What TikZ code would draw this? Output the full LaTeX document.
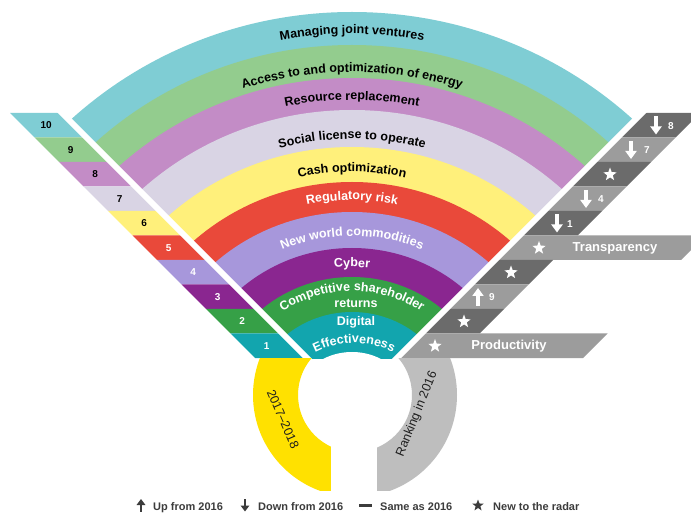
\documentclass[tikz,border=0pt]{standalone}
\usepackage{fontspec}
\setmainfont{Liberation Sans}
\usetikzlibrary{decorations.text,shapes.geometric,arrows.meta}
\definecolor{bandA}{HTML}{7FCDD4}
\definecolor{bandB}{HTML}{93CC8E}
\definecolor{bandC}{HTML}{C38CC6}
\definecolor{bandD}{HTML}{D9D4E4}
\definecolor{bandE}{HTML}{FFF07B}
\definecolor{bandF}{HTML}{E9493A}
\definecolor{bandG}{HTML}{A797DB}
\definecolor{bandH}{HTML}{8A2690}
\definecolor{bandI}{HTML}{36A047}
\definecolor{bandJ}{HTML}{12A5AE}
\definecolor{ringY}{HTML}{FFE100}
\definecolor{ringG}{HTML}{BEBEBE}
\definecolor{stripDark}{HTML}{6B6B6B}
\definecolor{stripLight}{HTML}{9C9C9C}
\definecolor{legendC}{HTML}{3C3C3C}
\definecolor{ringText}{HTML}{1E1E1E}
\tikzset{
  fantext/.style 2 args={decorate,decoration={text along path,text align=center,
     text={|\bfseries\fontsize{12.5}{15}\selectfont\color{#1}|#2}}},
  numtext/.style={font=\bfseries\fontsize{10}{12}\selectfont,inner sep=0pt},
  labtext/.style={font=\bfseries\fontsize{13}{15}\selectfont,text=white,inner sep=0pt},
  flattext/.style={font=\bfseries\fontsize{12.5}{15}\selectfont,text=white,inner sep=0pt},
  starW/.style={star,star points=5,star point ratio=2.4,fill=white,minimum size=14pt,inner sep=0pt},
  starL/.style={star,star points=5,star point ratio=2.4,fill=legendC,minimum size=12pt,inner sep=0pt},
  arrowW/.style={white,line width=3.6pt,-{Triangle[width=11pt,length=8pt]}},
  arrowL/.style={legendC,line width=2.6pt,-{Triangle[width=8.5pt,length=6pt]}},
  legtext/.style={font=\bfseries\fontsize{11}{13}\selectfont,text=legendC,inner sep=0pt,anchor=base west},
  ringtext/.style={font=\fontsize{12.5}{15}\selectfont,text=ringText,inner sep=0pt},
  sepline/.style={white,line width=6pt}
}
\begin{document}
\begin{tikzpicture}[x=1pt,y=1pt]
\fill[white] (0,0) rectangle (691,512);
\useasboundingbox (0,0) rectangle (691,512);
\begin{scope}
\clip (0,0) rectangle (691,512);
% fan bands
\begin{scope}
\clip (352,109) -- (-60,521) -- (764,521) -- cycle;
\clip (0,154) rectangle (691,512);
\foreach \r/\c in {400/bandA,367/bandB,334/bandC,302/bandD,265/bandE,230/bandF,200/bandG,164/bandH,135/bandI,100/bandJ}{
  \fill[\c] (352,100) ellipse [x radius={1.03*\r}, y radius=\r];
}
\fill[white] (352,100) ellipse [x radius=61.8, y radius=60];
\end{scope}
% left strips
\foreach \j/\c/\n/\t in {1/bandA/10/black,2/bandB/9/black,3/bandC/8/black,4/bandD/7/black,5/bandE/6/black,6/bandF/5/white,7/bandG/4/white,8/bandH/3/white,9/bandI/2/white,10/bandJ/1/white}{
  \pgfmathsetmacro{\ya}{399-24.5*(\j-1)}
  \pgfmathsetmacro{\yb}{\ya-24.5}
  \pgfmathsetmacro{\yc}{\ya-12.25}
  \fill[\c] ({409-\ya},\ya) -- ({463-\ya},\ya) -- ({463-\yb},\yb) -- ({409-\yb},\yb) -- cycle;
  \node[numtext,text=\t] (L\n) at ({433-\yc},\yc) {\n};
}
% right strips
\foreach \j in {1,...,10}{
  \pgfmathsetmacro{\ya}{399-24.5*(\j-1)}
  \pgfmathsetmacro{\yb}{\ya-24.5}
  \pgfmathtruncatemacro{\odd}{mod(\j,2)}
  \ifnum\odd=1 \def\sc{stripDark}\else\def\sc{stripLight}\fi
  \ifnum\j=6 \def\re{429}\else\ifnum\j=10 \def\re{429}\else\def\re{301}\fi\fi
  \fill[\sc] ({241+\ya},\ya) -- ({\re+\ya},\ya) -- ({\re+\yb},\yb) -- ({241+\yb},\yb) -- cycle;
}
% right strip contents
\draw[arrowW] (656,395.5) -- (656,377.5);
\node[numtext,text=white] (R1) at (671,386) {8};
\draw[arrowW] (631,371) -- (631,353);
\node[numtext,text=white] (R2) at (647,361.5) {7};
\node[starW] (S3) at (610,337.5) {};
\draw[arrowW] (586,322) -- (586,304);
\node[numtext,text=white] (R4) at (601,312.5) {4};
\draw[arrowW] (557,297.5) -- (557,279.5);
\node[numtext,text=white] (R5) at (570,288) {1};
\node[starW] (S6) at (539,264) {};
\node[labtext] (T6) at (615,264) {Transparency};
\node[starW] (S7) at (511,239.5) {};
\draw[arrowW] (478,206) -- (478,224);
\node[numtext,text=white] (R8) at (492,214.5) {9};
\node[starW] (S9) at (464,190.5) {};
\node[starW] (S10) at (435,166) {};
\node[labtext] (T10) at (509,166) {Productivity};
% separator lines
\begin{scope}
\clip (0,154) rectangle (691,512);
\draw[sepline] (41,420) -- (321,140);
\draw[sepline] (663,420) -- (383,140);
\end{scope}
% ring
\begin{scope}
\clip (0,22) rectangle (354,154);
\fill[ringY,even odd rule] (355,117) circle (102) (355,117) circle (57);
\end{scope}
\begin{scope}
\clip (354,22) rectangle (691,154);
\fill[ringG,even odd rule] (355,117) circle (102) (355,117) circle (57);
\end{scope}
\fill[white] (331,0) rectangle (377,117);
\node[ringtext,rotate=-66.5] (Y1) at (283,93) {2017–2018};
\node[ringtext,rotate=68] (Y2) at (417,98) {Ranking in 2016};
% fan texts
\path[fantext={black}{Managing joint ventures}] (352,100) ++(150:389.3 and 378) arc[start angle=150,end angle=30,x radius=389.3,y radius=378];
\path[fantext={black}{Access to and optimization of energy}] (352,100) ++(150:350.2 and 340) arc[start angle=150,end angle=30,x radius=350.2,y radius=340];
\path[fantext={black}{Resource replacement}] (352,100) ++(150:321.4 and 312) arc[start angle=150,end angle=30,x radius=321.4,y radius=312];
\path[fantext={black}{Social license to operate}] (352,100) ++(150:281.2 and 273) arc[start angle=150,end angle=30,x radius=281.2,y radius=273];
\path[fantext={black}{Cash optimization}] (352,100) ++(150:247.2 and 240) arc[start angle=150,end angle=30,x radius=247.2,y radius=240];
\path[fantext={white}{Regulatory risk}] (352,100) ++(150:218.4 and 212) arc[start angle=150,end angle=30,x radius=218.4,y radius=212];
\path[fantext={white}{New world commodities}] (352,100) ++(150:181.3 and 176) arc[start angle=150,end angle=30,x radius=181.3,y radius=176];
\path[fantext={white}{Cyber}] (352,100) ++(150:149.4 and 145) arc[start angle=150,end angle=30,x radius=149.4,y radius=145];
\path[fantext={white}{Competitive shareholder}] (352,100) ++(150:124.6 and 121) arc[start angle=150,end angle=30,x radius=124.6,y radius=121];
\node[flattext] (RT) at (356,209) {returns};
\node[flattext] (DG) at (356,190) {Digital};
\path[fantext={white}{Effectiveness}] (354,84) ++(160:85) arc[start angle=160,end angle=20,radius=85];
% legend
\draw[arrowL] (141,0.5) -- (141,13);
\node[legtext] (G1) at (153,2) {Up from 2016};
\draw[arrowL] (245,13) -- (245,0.5);
\node[legtext] (G2) at (258,2) {Down from 2016};
\draw[legendC,line width=2.4pt] (359,6.5) -- (372,6.5);
\node[legtext] (G3) at (380,2) {Same as 2016};
\node[starL] (G4s) at (478,6.5) {};
\node[legtext] (G4) at (493,2) {New to the radar};
\end{scope}
\end{tikzpicture}
\end{document}
